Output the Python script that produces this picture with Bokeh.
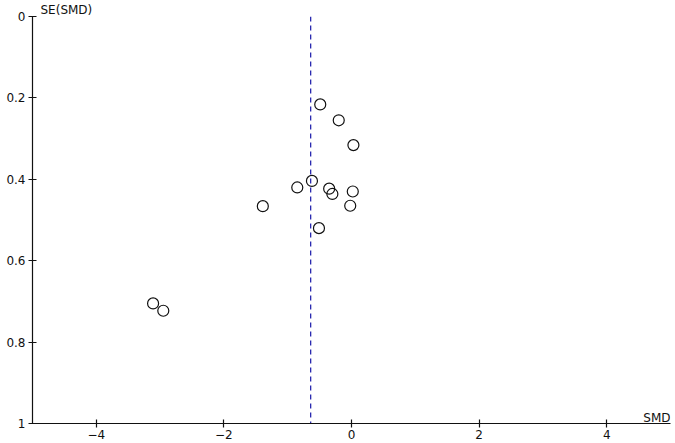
from bokeh.plotting import figure
from bokeh.models import Range1d, FixedTicker, Label
from bokeh.embed import file_html
from bokeh.resources import INLINE

# Data: standardized mean differences and their standard errors
smd = [-0.49, -0.20, 0.03, -0.62, -0.85, -0.35, -0.30, 0.02, -1.39, -0.02, -0.51, -3.11, -2.95]
se_smd = [0.216, 0.255, 0.316, 0.404, 0.420, 0.423, 0.436, 0.430, 0.466, 0.465, 0.520, 0.705, 0.723]
pooled_smd = -0.64

x_ticks = [-4, -2, 0, 2, 4]
x_tick_labels = ["\u22124", "\u22122", "0", "2", "4"]
y_ticks = [0, 0.2, 0.4, 0.6, 0.8, 1]
y_tick_labels = ["0", "0.2", "0.4", "0.6", "0.8", "1"]

FONT = "DejaVu Sans"

p = figure(width=675, height=443, output_backend="svg", toolbar_location=None,
           x_range=Range1d(-5, 5), y_range=Range1d(1, 0),
           min_border_left=32, min_border_right=5, min_border_top=15, min_border_bottom=20,
           title="SE(SMD)")
p.title.text_font = FONT
p.title.text_font_size = "12px"
p.title.text_font_style = "normal"
p.title.text_color = "#111111"
p.title.align = "left"
p.title.offset = 8
p.title.standoff = 0
p.outline_line_color = None
p.grid.visible = False

for ax, ticks, labels in ((p.xaxis[0], x_ticks, x_tick_labels), (p.yaxis[0], y_ticks, y_tick_labels)):
    ax.ticker = FixedTicker(ticks=ticks)
    ax.major_label_overrides = {t: l for t, l in zip(ticks, labels)}
    ax.minor_tick_line_color = None
    ax.major_tick_in = 4
    ax.major_tick_out = 4
    ax.major_label_standoff = 3
    ax.axis_line_color = "#111111"
    ax.axis_line_width = 1.2
    ax.major_tick_line_color = "#111111"
    ax.major_tick_line_width = 1.2
    ax.major_label_text_font = FONT
    ax.major_label_text_font_size = "12px"
    ax.major_label_text_color = "#111111"
p.xaxis[0].major_label_standoff = 2

p.line([pooled_smd, pooled_smd], [0, 1], line_color="#2a2ab0", line_width=1.3, line_dash="5 4")

p.scatter(smd, se_smd, size=11, marker="circle", fill_color=None,
          line_color="#111111", line_width=1.2)

p.add_layout(Label(x=5, y=1, x_offset=0, y_offset=6, text="SMD",
                   text_font=FONT, text_font_size="12px", text_color="#111111",
                   text_baseline="alphabetic", text_align="right"))

open("out.html", "w").write(file_html(p, INLINE))
